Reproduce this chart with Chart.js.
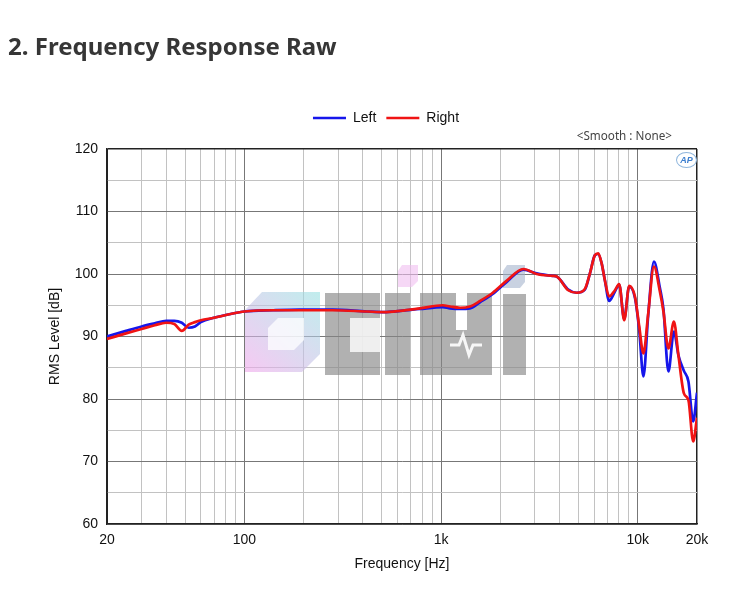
<!DOCTYPE html>
<html>
<head>
<meta charset="utf-8">
<script src="https://cdn.jsdelivr.net/npm/chart.js"></script>
<style>
  html, body { margin: 0; padding: 0; background: #fff; }
  #wrap { position: relative; width: 734px; height: 596px; overflow: hidden; }
  #chart { position: absolute; left: 0; top: 0; }
  #title { position: absolute; left: 8px; top: 31px; font: 700 24px/30px "Noto Sans", sans-serif; color: #363636; white-space: nowrap; }
  #smooth { position: absolute; right: 62px; top: 128px; font: 11.7px/14px "Noto Sans", sans-serif; color: #444; white-space: nowrap; }
  #ap { position: absolute; left: 676px; top: 152px; width: 19px; height: 14px; border: 1px solid #8fb6dd; border-radius: 50%;
        font: italic 700 9px/14px "Liberation Sans", Arial, sans-serif; color: #3d7fcf; text-align: center; background: #fff; }
</style>
</head>
<body>
<div id="wrap">
  <canvas id="chart" width="734" height="596"></canvas>
  <div id="title">2. Frequency Response Raw</div>
  <div id="smooth">&lt;Smooth : None&gt;</div>
  <div id="ap">AP</div>
</div>
<script>
// frequency points (Hz)
const freqHz = [20, 25, 30, 35, 40, 44, 48, 52, 56, 60, 70, 85, 100, 140, 190, 280, 420, 510, 620, 780,
  1020, 1110, 1250, 1400, 1580, 1830, 2150, 2620, 3060, 3700, 3870, 4430, 4890, 5380, 5710, 6050, 6290, 6550,
  6800, 7150, 7650, 8040, 8530, 9040, 9670, 10170, 10680, 11300, 12080, 12950, 13500, 14310, 15260, 16090,
  17160, 18090, 19130, 20000];

const leftDb = [90.0, 90.9, 91.6, 92.1, 92.5, 92.5, 92.2, 91.4, 91.6, 92.3, 93.0, 93.6, 94.0, 94.2, 94.3, 94.3, 94.0, 93.9, 94.1, 94.4,
  94.7, 94.5, 94.4, 94.5, 95.5, 96.8, 98.7, 100.7, 100.1, 99.7, 99.6, 97.5, 97.0, 97.5, 100.1, 103.0, 103.2, 101.7,
  99.0, 95.7, 97.2, 98.3, 92.8, 98.0, 96.2, 91.0, 83.6, 93.5, 102.0, 97.8, 94.4, 84.4, 90.8, 87.0,
  84.5, 82.8, 76.4, 81.0];

const rightDb = [89.6, 90.5, 91.2, 91.8, 92.2, 92.0, 90.9, 91.9, 92.3, 92.6, 93.0, 93.6, 94.0, 94.2, 94.2, 94.2, 94.0, 93.9, 94.1, 94.5,
  95.0, 94.8, 94.6, 94.8, 95.7, 97.0, 98.9, 100.8, 100.0, 99.7, 99.6, 97.4, 97.0, 97.6, 100.1, 103.0, 103.3, 101.7,
  99.0, 96.4, 97.4, 98.4, 92.6, 98.1, 96.4, 91.6, 87.3, 93.7, 101.2, 97.2, 94.0, 88.1, 92.4, 87.0,
  80.9, 79.8, 73.2, 77.0];

const xGridHz = [20, 30, 40, 50, 60, 70, 80, 90, 100, 200, 300, 400, 500, 600, 700, 800, 900,
  1000, 2000, 3000, 4000, 5000, 6000, 7000, 8000, 9000, 10000, 20000];
const xTickText = { 20: '20', 100: '100', 1000: '1k', 10000: '10k', 20000: '20k' };
const yMin = 60, yMax = 120, yStep = 5;

Chart.defaults.font.family = '"Liberation Sans", Arial, sans-serif';
Chart.defaults.font.size = 14;
Chart.defaults.color = '#111';

const toPoints = vals => freqHz.map((f, i) => ({ x: f, y: vals[i] }));

// faint site watermark, offsets relative to the plot area
const watermark = {
  id: 'watermark',
  beforeDatasetsDraw(chart) {
    const c = chart.ctx;
    const L = chart.chartArea.left, T = chart.chartArea.top;
    const poly = pts => {
      c.beginPath();
      pts.forEach(([px, py], i) => i ? c.lineTo(L + px, T + py) : c.moveTo(L + px, T + py));
      c.closePath();
    };
    const rect = (x0, y0, x1, y1) => c.fillRect(L + x0, T + y0, x1 - x0, y1 - y0);
    c.save();
    const g = c.createLinearGradient(L + 213, T + 143, L + 138, T + 223);
    g.addColorStop(0, 'rgba(150,225,225,0.6)');
    g.addColorStop(1, 'rgba(240,165,235,0.6)');
    c.fillStyle = g;
    poly([[155, 143], [213, 143], [213, 205], [195, 223], [138, 223], [138, 161]]);
    c.fill();
    c.fillStyle = 'rgba(255,255,255,0.75)';
    poly([[171, 169], [197, 169], [197, 191], [187, 201], [161, 201], [161, 179]]);
    c.fill();

    c.fillStyle = 'rgba(135,135,135,0.65)';
    rect(218, 144, 273, 226);
    rect(278, 144, 303, 226);
    rect(313, 144, 349, 226);
    rect(360, 144, 385, 226);
    rect(349, 181, 360, 226);
    rect(396, 145, 419, 226);
    c.fillStyle = 'rgba(255,255,255,0.8)';
    rect(243, 169, 273, 203);
    c.strokeStyle = 'rgba(255,255,255,0.9)';
    c.lineWidth = 3;
    c.beginPath();
    c.moveTo(L + 343, T + 196);
    c.lineTo(L + 352, T + 196);
    c.lineTo(L + 356, T + 186);
    c.lineTo(L + 362, T + 206);
    c.lineTo(L + 366, T + 196);
    c.lineTo(L + 375, T + 196);
    c.stroke();

    c.fillStyle = 'rgba(240,190,240,0.6)';
    poly([[295, 116], [311, 116], [311, 132], [305, 138], [291, 138], [291, 122]]);
    c.fill();
    c.fillStyle = 'rgba(165,180,205,0.6)';
    poly([[400, 116], [418, 116], [418, 133], [413, 139], [396, 139], [396, 122]]);
    c.fill();
    c.restore();
  }
};

// move the legend row so it sits where the original does
const legendShift = {
  id: 'legendShift',
  afterLayout(chart) {
    chart.legend.left += 16;
    chart.legend.right += 16;
  }
};

new Chart(document.getElementById('chart'), {
  type: 'line',
  data: {
    datasets: [
      { label: 'Left', data: toPoints(leftDb), xAxisID: 'x', yAxisID: 'y', order: 1,
        borderColor: 'rgb(22,22,235)', backgroundColor: 'rgb(22,22,235)', borderWidth: 2.7,
        pointRadius: 0, cubicInterpolationMode: 'monotone', fill: false },
      { label: 'Right', data: toPoints(rightDb), xAxisID: 'x', yAxisID: 'y', order: 0,
        borderColor: 'rgb(240,20,20)', backgroundColor: 'rgb(240,20,20)', borderWidth: 2.7,
        pointRadius: 0, cubicInterpolationMode: 'monotone', fill: false }
    ]
  },
  options: {
    responsive: false,
    devicePixelRatio: 1,
    animation: false,
    layout: { padding: { top: 101, left: 43, right: 37, bottom: 19 } },
    plugins: {
      tooltip: { enabled: false },
      legend: {
        position: 'top',
        labels: {
          usePointStyle: true, pointStyle: 'line', pointStyleWidth: 33,
          padding: 10, color: '#111', font: { size: 14 },
          sort: (a, b) => a.datasetIndex - b.datasetIndex
        }
      }
    },
    scales: {
      x: {
        type: 'logarithmic', position: 'bottom', min: 20, max: 20000,
        afterBuildTicks: s => { s.ticks = xGridHz.map(v => ({ value: v })); },
        afterFit: s => { s.height = 53; },
        ticks: { autoSkip: false, maxRotation: 0, padding: 8, color: '#111',
          callback: v => xTickText[v] || '' },
        grid: {
          drawTicks: false,
          color: c => {
            const v = c.tick ? c.tick.value : 0;
            if (v === 20 || v === 20000) return '#222';
            return [100, 1000, 10000].includes(v) ? '#777' : '#c2c2c2';
          },
          lineWidth: c => (c.tick && c.tick.value === 20000) ? 1.5 : 1
        },
        border: { color: '#222', width: 1.5 },
        title: { display: true, text: 'Frequency [Hz]', color: '#111', font: { size: 14 }, padding: { top: 4, bottom: 4 } }
      },
      xTop: {
        type: 'linear', position: 'top', display: true,
        grid: { display: false, drawTicks: false },
        ticks: { display: false },
        border: { display: false },
        afterFit: s => { s.height = 14; }
      },
      y: {
        min: yMin, max: yMax,
        afterFit: s => { s.width = 64; },
        ticks: { stepSize: yStep, padding: 9, color: '#111',
          callback: v => v % 10 === 0 ? v : '' },
        grid: {
          drawTicks: false,
          color: c => {
            const v = c.tick ? c.tick.value : 0;
            if (v === yMax) return '#222';
            return v % 10 === 0 ? '#777' : '#c2c2c2';
          },
          lineWidth: c => (c.tick && c.tick.value === yMax) ? 1.5 : 1
        },
        border: { color: '#222', width: 1.5 },
        title: { display: true, text: 'RMS Level [dB]', color: '#111', font: { size: 14 }, padding: { top: 4, bottom: 4 } }
      }
    }
  },
  plugins: [watermark, legendShift]
});
</script>
</body>
</html>
